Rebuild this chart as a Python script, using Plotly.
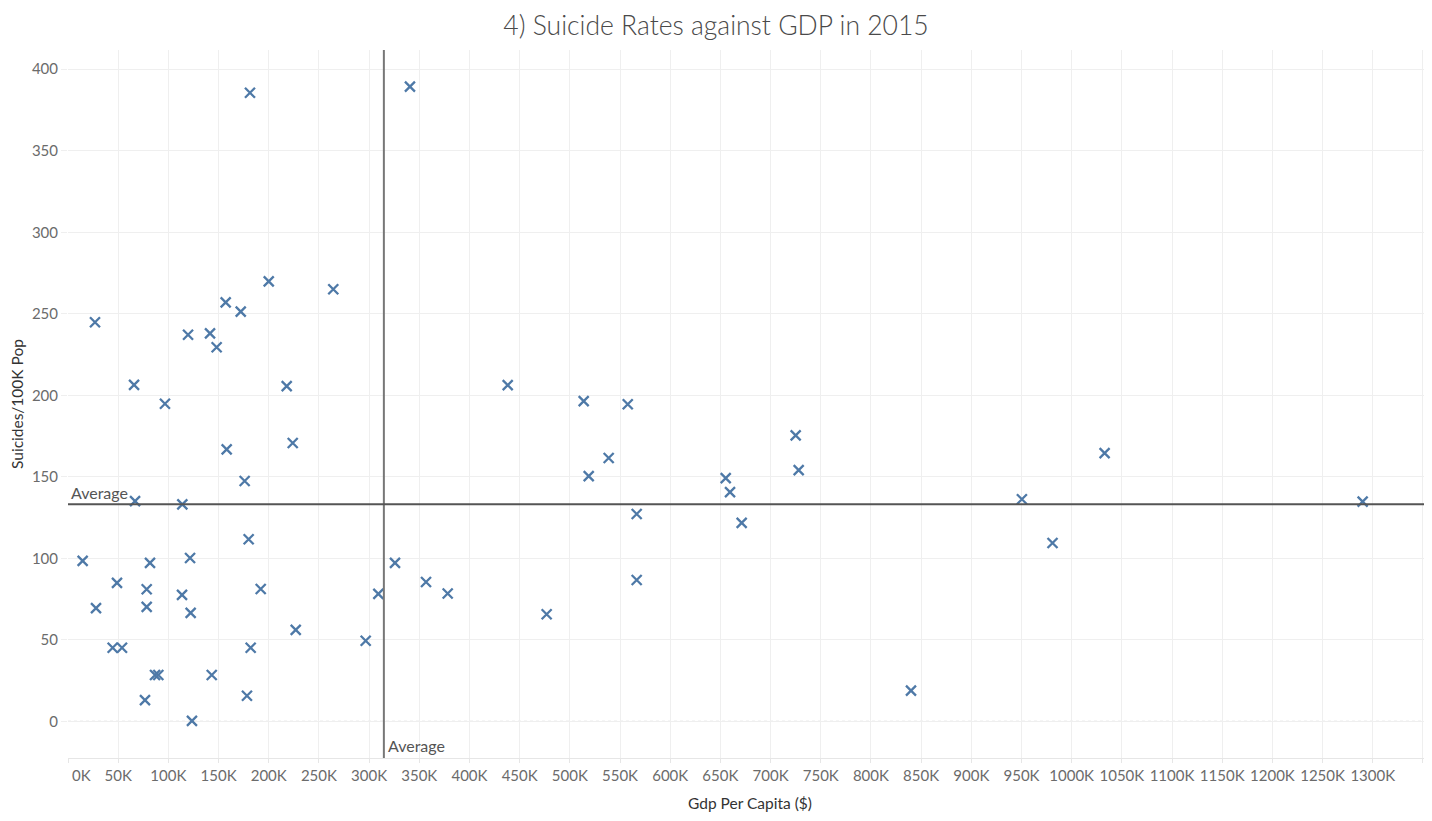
import plotly.graph_objects as go

# GDP per capita in thousands of dollars (K)
gdp_k = [
    181.3, 340.7, 26.9, 65.8, 96.6, 119.6, 141.5, 148.1, 157.1, 172.1, 200.0, 264.3, 217.9,
    158.1, 223.9, 176.0, 66.8, 113.9, 180.0, 14.6, 81.7, 121.6, 48.8, 78.4, 113.6, 192.0,
    27.9, 78.4, 122.2, 226.9, 44.5, 53.8, 182.0, 296.6, 86.7, 90.0, 143.2, 76.7, 178.3, 123.5,
    325.8, 356.7, 378.3, 309.2, 438.1, 513.8, 557.7, 538.7, 518.8, 725.0, 728.0, 655.3, 659.6,
    566.6, 671.2, 566.6, 476.9, 839.9, 950.4, 980.9, 1032.8, 1289.9,
]
# Suicides per 100K population
suicides = [
    385.6, 389.3, 244.8, 206.4, 194.8, 237.1, 238.0, 229.5, 257.0, 251.3, 269.9, 265.0, 205.6,
    166.8, 170.7, 147.4, 135.1, 133.1, 111.7, 98.4, 97.2, 100.2, 84.9, 81.0, 77.6, 81.2,
    69.4, 70.2, 66.5, 56.1, 45.1, 45.1, 45.1, 49.4, 28.4, 28.4, 28.4, 13.0, 15.7, 0.3,
    97.2, 85.5, 78.4, 78.2, 206.2, 196.4, 194.5, 161.5, 150.4, 175.4, 154.1, 149.2, 140.6,
    127.2, 121.7, 86.7, 65.7, 18.8, 136.2, 109.4, 164.5, 134.8,
]

# x-axis ticks (thousands of $); first label drawn separately, shifted inside the pane
x_tick_values = [0, 50, 100, 150, 200, 250, 300, 350, 400, 450, 500, 550, 600, 650,
                 700, 750, 800, 850, 900, 950, 1000, 1050, 1100, 1150, 1200, 1250, 1300, 1350]
x_tick_labels = ["", "50K", "100K", "150K", "200K", "250K", "300K", "350K", "400K", "450K",
                 "500K", "550K", "600K", "650K", "700K", "750K", "800K", "850K", "900K",
                 "950K", "1000K", "1050K", "1100K", "1150K", "1200K", "1250K", "1300K", ""]
first_x_label = "0K"

avg_x = sum(gdp_k) / len(gdp_k)
avg_y = sum(suicides) / len(suicides)

GRID = "#efefef"
TICKC = "#6b6b6b"
FONT = "Lato"

fig = go.Figure()
fig.add_trace(go.Scatter(
    x=gdp_k, y=suicides, mode="markers",
    marker=dict(symbol="x-thin", size=10, line=dict(width=2.3, color="#4e79a7"), color="#4e79a7"),
    hoverinfo="x+y", showlegend=False,
))

# zero line (dotted)
fig.add_shape(type="line", xref="paper", x0=0, x1=1, yref="y", y0=0, y1=0,
              line=dict(color="#c8c8c8", width=1, dash="dot"), layer="below")
# average reference lines
fig.add_shape(type="line", xref="x", x0=avg_x, x1=avg_x, yref="paper", y0=0, y1=1,
              line=dict(color="#777777", width=2))
fig.add_shape(type="line", xref="paper", x0=0, x1=1, yref="y", y0=avg_y, y1=avg_y,
              line=dict(color="#555555", width=2))

fig.add_annotation(text="Average", x=0, xref="x", xanchor="left", xshift=1,
                   y=avg_y, yref="y", yanchor="bottom", yshift=0, showarrow=False,
                   font=dict(family=FONT, size=16, color="#555555"))
fig.add_annotation(text="Average", x=avg_x, xref="x", xanchor="left", xshift=2,
                   y=0, yref="paper", yanchor="bottom", yshift=1, showarrow=False,
                   font=dict(family=FONT, size=16, color="#555555"))
fig.add_annotation(text=first_x_label, x=x_tick_values[0], xref="x", xanchor="left", xshift=2,
                   y=0, yref="paper", yanchor="top", yshift=-6, showarrow=False,
                   font=dict(family=FONT, size=15, color=TICKC))

fig.update_layout(
    width=1424, height=813,
    margin=dict(l=60, r=0, t=42, b=63),
    paper_bgcolor="white", plot_bgcolor="white",
    title=dict(text="4) Suicide Rates against GDP in 2015", x=708 / 1424, xanchor="center",
               y=1 - 17.5 / 813, yanchor="middle",
               font=dict(family=FONT, size=26.5, color="#4a4a4a", weight=300)),
    font=dict(family=FONT),
    xaxis=dict(
        range=[0, 1359], tickmode="array", tickvals=x_tick_values, ticktext=x_tick_labels,
        showgrid=True, gridcolor=GRID, gridwidth=1, zeroline=False,
        showline=True, linecolor="#e6e6e6", linewidth=1,
        ticks="outside", ticklen=4, tickcolor="#e6e6e6",
        tickfont=dict(family=FONT, size=15, color=TICKC),
        title=dict(text="Gdp Per Capita ($)", standoff=15,
                   font=dict(family=FONT, size=15.5, color="#333333")),
    ),
    yaxis=dict(
        range=[-22.5, 411.8], dtick=50, tick0=0,
        showgrid=True, gridcolor=GRID, gridwidth=1, zeroline=False,
        showline=False,
        ticks="outside", ticklen=6, tickcolor=GRID,
        tickfont=dict(family=FONT, size=15, color=TICKC),
        title=dict(text="Suicides/100K Pop", standoff=8,
                   font=dict(family=FONT, size=15.5, color="#333333")),
    ),
)

fig.write_html("out.html")
